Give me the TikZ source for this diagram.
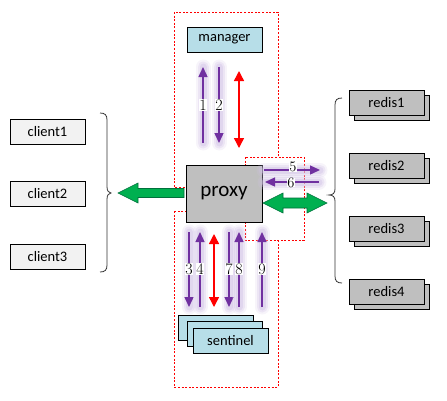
\documentclass[tikz,border=0pt]{standalone}
\usepackage{fontspec}
\setsansfont{Carlito}
\usetikzlibrary{arrows.meta}
\definecolor{pur}{HTML}{7030A0}
\definecolor{glowc}{HTML}{D2C3E6}
\definecolor{lblue}{HTML}{B7DEE8}
\definecolor{lgray}{HTML}{F2F2F2}
\definecolor{mgray}{HTML}{BFBFBF}
\definecolor{grn}{HTML}{00B050}
\definecolor{dgrn}{HTML}{00703C}
\tikzset{
  box/.style={draw=black, line width=0.9pt, minimum width=75pt, minimum height=25pt, inner sep=0pt, font=\sffamily\fontsize{14.5}{14.5}\selectfont},
  cbox/.style={box, fill=lgray},
  rbox/.style={box, fill=mgray},
  bbox/.style={box, fill=lblue},
  zone/.style={draw=red, line width=0.9pt, dash pattern=on 2pt off 1.6pt},
  parr/.style={draw=pur, line width=1.4pt, -{Triangle[length=10pt,width=9pt]},
    preaction={draw=glowc, line width=15pt, opacity=0.18, line cap=round, -},
    preaction={draw=glowc, line width=11pt, opacity=0.3, line cap=round, -},
    preaction={draw=glowc, line width=7pt, opacity=0.45, line cap=round, -}},
  rarr/.style={draw=red, line width=1.4pt, {Triangle[length=10pt,width=10pt]}-{Triangle[length=10pt,width=10pt]}},
  num/.style={fill=white, inner sep=0.4pt, font=\fontsize{16}{16}\selectfont},
  garr/.style={fill=grn, draw=dgrn, line width=0.6pt, line join=miter},
  brace/.style={draw=black!80, line width=0.8pt}
}
\begin{document}
\begin{tikzpicture}[x=1pt,y=-1pt]
\useasboundingbox (0,0) rectangle (447,400);
% dashed zones
\draw[zone] (174,12) rectangle (278,187);
\draw[zone] (174,211) rectangle (278,387);
\draw[zone, fill=white] (245,157) rectangle (304,240);
% proxy
\node[draw=black, line width=0.9pt, fill=mgray, minimum width=76pt, minimum height=57pt, inner sep=0pt, font=\sffamily\fontsize{21}{21}\selectfont] (proxy) at (224,193.5) {proxy};
% manager
\node[bbox] (manager) at (224.5,39.5) {manager};
% clients
\node[cbox] (c1) at (47.5,131.5) {client1};
\node[cbox] (c2) at (47.5,194) {client2};
\node[cbox] (c3) at (47.5,256.5) {client3};
% redis
\foreach \i/\y in {1/102.5,2/165.5,3/228.5,4/291.5}{
  \node[rbox] (r\i b) at (391.5,\y+5) {};
  \node[rbox] (r\i) at (386.5,\y) {redis\i};
}
% sentinel
\node[bbox] (s1) at (215.5,328) {};
\node[bbox] (s2) at (224.5,334) {};
\node[bbox] (s3) at (230.5,340.5) {sentinel};
% braces
\draw[brace] (100,113) .. controls (105,113) and (107,115) .. (107,120) -- (107,187)
  .. controls (107,191) and (109,193) .. (111,193)
  .. controls (109,193) and (107,195) .. (107,199) -- (107,265)
  .. controls (107,270) and (105,272) .. (100,272);
\draw[brace] (342,98) .. controls (337,98) and (335,100) .. (335,105) -- (335,189)
  .. controls (335,193) and (333,195) .. (329,195)
  .. controls (333,195) and (335,197) .. (335,201) -- (335,276)
  .. controls (335,281) and (337,283) .. (342,283);
% green block arrows
\coordinate (gl) at (118,193);
\draw[garr] (gl) -- ++(20,-10) -- ++(0,5.5) -- (184,188.5) -- (184,197.5) -- (138,197.5) -- ++(0,5.5) -- cycle;
\coordinate (gr) at (263,203);
\draw[garr] (gr) -- ++(20,-10) -- ++(0,5) -- (307,198) -- ++(0,-5) -- (327,203) -- (307,213) -- ++(0,-5) -- (283,208) -- ++(0,5) -- cycle;
% manager <-> proxy arrows
\coordinate (a1s) at (203,143); \coordinate (a1e) at (203,67);
\coordinate (a2s) at (219,67); \coordinate (a2e) at (219,143);
\draw[parr] (a1s) -- node[num]{1} (a1e);
\draw[parr] (a2s) -- node[num]{2} (a2e);
\coordinate (ra) at (239,71); \coordinate (rb) at (239,148);
\draw[rarr] (ra) -- (rb);
% proxy <-> redis arrows
\coordinate (a5s) at (264,170); \coordinate (a5e) at (320,170);
\coordinate (a6s) at (319,182); \coordinate (a6e) at (265,182);
\draw[parr] (a5s) -- (a5e);
\draw[parr] (a6s) -- (a6e);
\node[num, inner sep=0pt, font=\fontsize{14.5}{14.5}\selectfont] (n5) at (293,167) {5};
\node[num, inner sep=0pt, font=\fontsize{14.5}{14.5}\selectfont] (n6) at (291,182.5) {6};
% proxy <-> sentinel arrows
\coordinate (a3s) at (189,232); \coordinate (a3e) at (189,307);
\coordinate (a4s) at (200,307); \coordinate (a4e) at (200,232);
\coordinate (a7s) at (229,232); \coordinate (a7e) at (229,307);
\coordinate (a8s) at (239,307); \coordinate (a8e) at (239,232);
\coordinate (a9s) at (262,307); \coordinate (a9e) at (262,232);
\draw[parr] (a3s) -- (a3e);
\draw[parr] (a4s) -- (a4e);
\draw[parr] (a7s) -- (a7e);
\draw[parr] (a8s) -- (a8e);
\draw[parr] (a9s) -- (a9e);
\coordinate (rc) at (214,234); \coordinate (rd) at (214,307);
\draw[rarr] (rc) -- (rd);
\node[num] (n3) at (189,269) {3};
\node[num] (n4) at (200,269) {4};
\node[num] (n7) at (229,269) {7};
\node[num] (n8) at (239,269) {8};
\node[num] (n9) at (262,269) {9};
\end{tikzpicture}
\end{document}
